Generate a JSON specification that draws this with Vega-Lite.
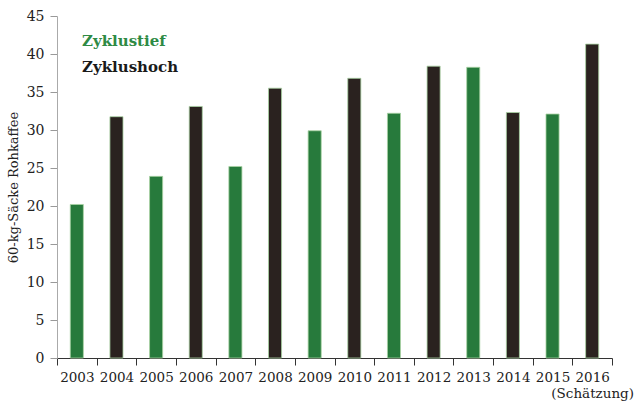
{
  "$schema": "https://vega.github.io/schema/vega-lite/v6.json",
  "width": 555,
  "height": 342,
  "autosize": {"type": "none"},
  "padding": {"left": 57, "top": 16, "right": 22, "bottom": 45},
  "background": "white",
  "data": {
    "values": [
      {"Jahr": "2003", "Wert": 20.2, "Phase": "Zyklustief"},
      {"Jahr": "2004", "Wert": 31.75, "Phase": "Zyklushoch"},
      {"Jahr": "2005", "Wert": 23.9, "Phase": "Zyklustief"},
      {"Jahr": "2006", "Wert": 33.1, "Phase": "Zyklushoch"},
      {"Jahr": "2007", "Wert": 25.2, "Phase": "Zyklustief"},
      {"Jahr": "2008", "Wert": 35.5, "Phase": "Zyklushoch"},
      {"Jahr": "2009", "Wert": 29.9, "Phase": "Zyklustief"},
      {"Jahr": "2010", "Wert": 36.8, "Phase": "Zyklushoch"},
      {"Jahr": "2011", "Wert": 32.2, "Phase": "Zyklustief"},
      {"Jahr": "2012", "Wert": 38.4, "Phase": "Zyklushoch"},
      {"Jahr": "2013", "Wert": 38.25, "Phase": "Zyklustief"},
      {"Jahr": "2014", "Wert": 32.3, "Phase": "Zyklushoch"},
      {"Jahr": "2015", "Wert": 32.1, "Phase": "Zyklustief"},
      {"Jahr": "2016", "Wert": 41.3, "Phase": "Zyklushoch"}
    ]
  },
  "mark": {"type": "bar", "width": {"band": 0.33}, "stroke": "#a9d3a3", "strokeWidth": 0.8},
  "encoding": {
    "x": {
      "field": "Jahr",
      "type": "ordinal",
      "scale": {"paddingInner": 0, "paddingOuter": 0},
      "axis": {
        "title": null,
        "labelAngle": 0,
        "tickBand": "extent",
        "labelFont": "DejaVu Serif",
        "labelFontSize": 13.5,
        "labelColor": "#222",
        "labelPadding": 5,
        "labelLineHeight": 16,
        "tickSize": 7,
        "tickColor": "#333",
        "domainColor": "#333",
        "labelExpr": "datum.label == '2016' ? ['2016', '(Schätzung)'] : datum.label"
      }
    },
    "y": {
      "field": "Wert",
      "type": "quantitative",
      "scale": {"domain": [0, 45]},
      "axis": {
        "title": "60-kg-Säcke Rohkaffee",
        "titleFont": "DejaVu Serif",
        "titleFontSize": 13,
        "titleFontWeight": "normal",
        "titleColor": "#222",
        "titlePadding": 6,
        "values": [0, 5, 10, 15, 20, 25, 30, 35, 40, 45],
        "grid": false,
        "labelFont": "DejaVu Serif",
        "labelFontSize": 14,
        "labelColor": "#222",
        "labelPadding": 6,
        "tickSize": 7,
        "tickColor": "#999",
        "domainColor": "#aaa"
      }
    },
    "color": {
      "field": "Phase",
      "type": "nominal",
      "scale": {"domain": ["Zyklustief", "Zyklushoch"], "range": ["#277a3c", "#2a221f"]},
      "legend": {
        "title": null,
        "orient": "none",
        "legendX": 10,
        "legendY": 17,
        "padding": 0,
        "symbolSize": 0,
        "symbolOpacity": 0,
        "symbolStrokeWidth": 0,
        "labelOffset": 0,
        "labelFont": "DejaVu Serif",
        "labelFontSize": 15,
        "labelFontWeight": "bold",
        "rowPadding": 10,
        "labelColor": {"expr": "(datum.label == 'Zyklustief' || datum.value == 'Zyklustief') ? '#2e8a44' : '#1a1a1a'"}
      }
    }
  },
  "config": {"view": {"stroke": null}}
}
